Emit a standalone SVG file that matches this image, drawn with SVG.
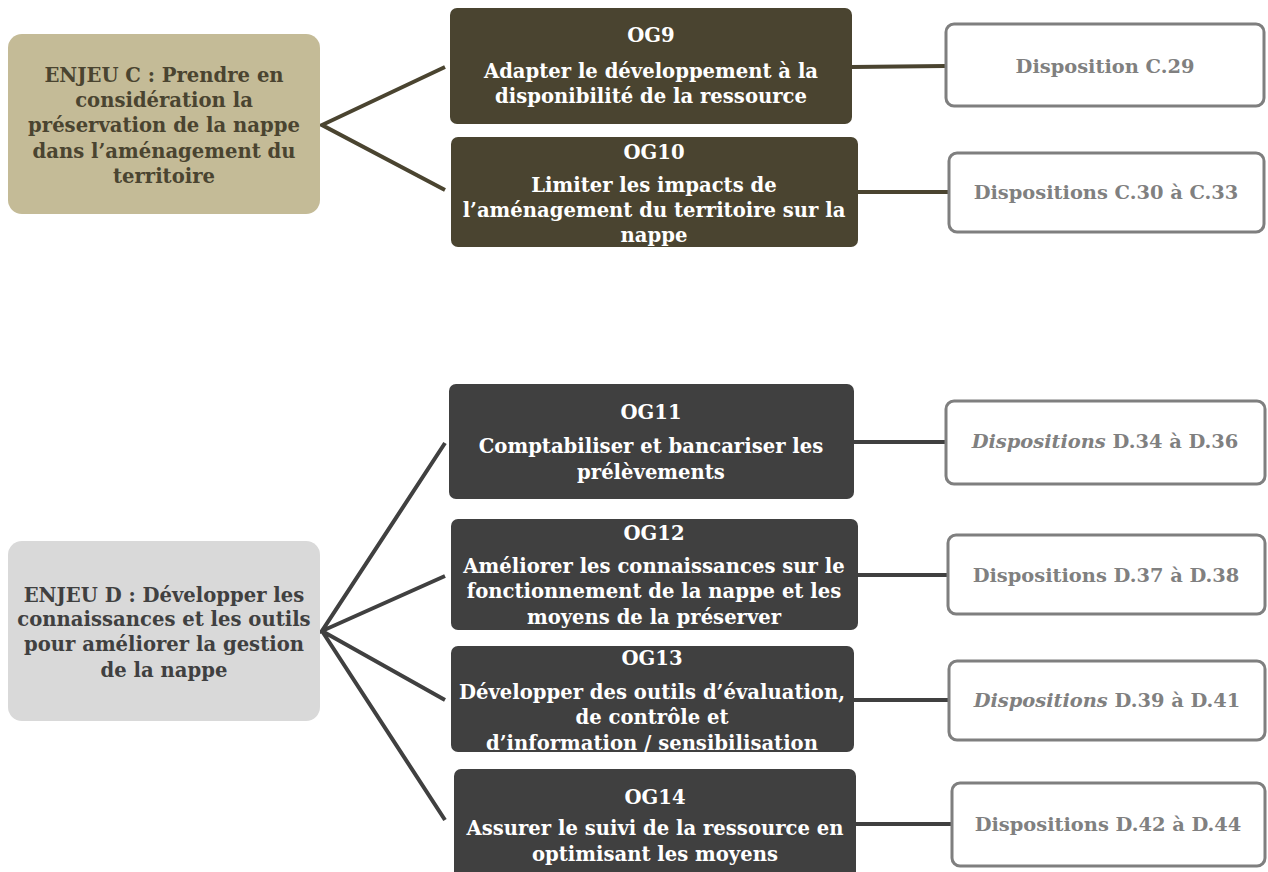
<svg xmlns="http://www.w3.org/2000/svg" width="1268" height="872" viewBox="0 0 1268 872">
<style>
text{font-family:"DejaVu Serif","Liberation Serif",serif;font-weight:bold;text-anchor:middle}
.t{font-size:19.6px}
.og{fill:#ffffff;font-size:19.6px}
.dis{fill:#808080;font-size:19.4px}
.box{fill:#ffffff;stroke:#7f7f7f;stroke-width:3}
.cc{stroke:#4a4430;stroke-width:4;fill:none}
.cd{stroke:#404040;stroke-width:4;fill:none}
</style>
<rect width="1268" height="872" fill="#ffffff"/>
<g id="connectors">
<path class="cc" d="M445,67 L322,125 L445,190"/>
<path class="cc" d="M852,67 L945,66"/>
<path class="cc" d="M858,192 L948,192"/>
<path class="cd" d="M445,443 L322,631 L445,576"/>
<path class="cd" d="M445,700 L322,631 L445,820"/>
<path class="cd" d="M854,442 L945,442"/>
<path class="cd" d="M858,575 L947,575"/>
<path class="cd" d="M854,700 L948,700"/>
<path class="cd" d="M856,824 L951,824"/>
</g>
<g id="enjeuC">
<rect x="8" y="34" width="312" height="180" rx="14" fill="#c4bb97"/>
<text class="t" fill="#4a4430"><tspan x="164" y="82">ENJEU C : Prendre en</tspan><tspan x="164" y="107">considération la</tspan><tspan x="164" y="132">préservation de la nappe</tspan><tspan x="164" y="158">dans l’aménagement du</tspan><tspan x="164" y="183">territoire</tspan></text>
</g>
<g id="og9">
<rect x="450" y="8" width="402" height="116" rx="7" fill="#4a4430"/>
<text class="og"><tspan x="651" y="42">OG9</tspan><tspan x="651" y="78">Adapter le développement à la</tspan><tspan x="651" y="103">disponibilité de la ressource</tspan></text>
</g>
<g id="og10">
<rect x="451" y="137" width="407" height="110" rx="7" fill="#4a4430"/>
<text class="og"><tspan x="654" y="159">OG10</tspan><tspan x="654" y="192">Limiter les impacts de</tspan><tspan x="654" y="217">l’aménagement du territoire sur la</tspan><tspan x="654" y="242">nappe</tspan></text>
</g>
<g id="c29">
<rect class="box" x="946" y="24" width="318" height="82" rx="8"/>
<text class="dis" x="1105" y="73">Disposition C.29</text>
</g>
<g id="c30">
<rect class="box" x="949" y="153" width="315" height="79" rx="8"/>
<text class="dis" x="1106" y="199">Dispositions C.30 à C.33</text>
</g>
<g id="enjeuD">
<rect x="8" y="541" width="312" height="180" rx="14" fill="#d9d9d9"/>
<text class="t" fill="#404040"><tspan x="164" y="602">ENJEU D : Développer les</tspan><tspan x="164" y="626">connaissances et les outils</tspan><tspan x="164" y="651">pour améliorer la gestion</tspan><tspan x="164" y="677">de la nappe</tspan></text>
</g>
<g id="og11">
<rect x="449" y="384" width="405" height="115" rx="7" fill="#404040"/>
<text class="og"><tspan x="651" y="419">OG11</tspan><tspan x="651" y="453">Comptabiliser et bancariser les</tspan><tspan x="651" y="479">prélèvements</tspan></text>
</g>
<g id="og12">
<rect x="451" y="519" width="407" height="111" rx="7" fill="#404040"/>
<text class="og"><tspan x="654" y="540">OG12</tspan><tspan x="654" y="573">Améliorer les connaissances sur le</tspan><tspan x="654" y="598">fonctionnement de la nappe et les</tspan><tspan x="654" y="624">moyens de la préserver</tspan></text>
</g>
<g id="og13">
<rect x="451" y="646" width="403" height="106" rx="7" fill="#404040"/>
<text class="og"><tspan x="652" y="665">OG13</tspan><tspan x="652" y="699">Développer des outils d’évaluation,</tspan><tspan x="652" y="724">de contrôle et</tspan><tspan x="652" y="750">d’information  / sensibilisation</tspan></text>
</g>
<g id="og14">
<rect x="454" y="769" width="402" height="110" rx="7" fill="#404040"/>
<text class="og"><tspan x="655" y="804">OG14</tspan><tspan x="655" y="835">Assurer le suivi de la ressource en</tspan><tspan x="655" y="861">optimisant les moyens</tspan></text>
</g>
<g id="d34">
<rect class="box" x="946" y="401" width="319" height="83" rx="8"/>
<text class="dis" x="1105" y="448"><tspan font-style="italic">Dispositions</tspan> D.34 à D.36</text>
</g>
<g id="d37">
<rect class="box" x="948" y="535" width="317" height="79" rx="8"/>
<text class="dis" x="1106" y="582">Dispositions D.37 à D.38</text>
</g>
<g id="d39">
<rect class="box" x="949" y="661" width="316" height="79" rx="8"/>
<text class="dis" x="1107" y="707"><tspan font-style="italic">Dispositions</tspan> D.39 à D.41</text>
</g>
<g id="d42">
<rect class="box" x="952" y="783" width="313" height="83" rx="8"/>
<text class="dis" x="1108" y="831">Dispositions D.42 à D.44</text>
</g>
</svg>
